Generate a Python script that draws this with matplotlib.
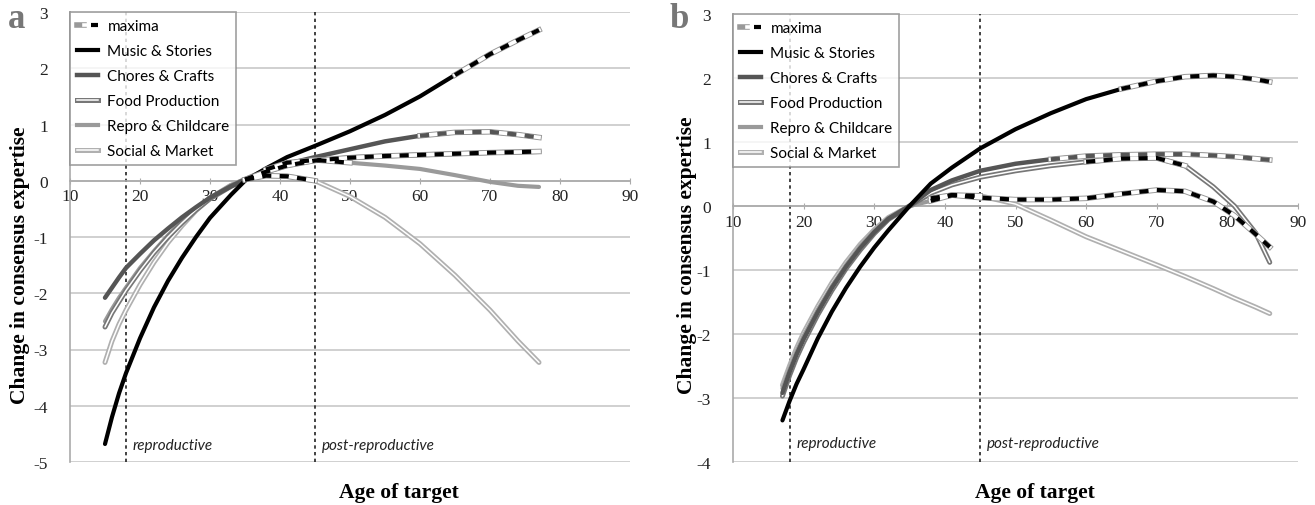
import numpy as np
import matplotlib
matplotlib.use("Agg")
import matplotlib.pyplot as plt
import matplotlib.patheffects as pe
from matplotlib.lines import Line2D
from matplotlib.legend_handler import HandlerTuple

plt.rcParams["axes.unicode_minus"] = False

# ---- data, panel a ----
age_a = np.array([15, 16, 17, 18, 20, 22, 24, 26, 28, 30, 33, 35, 38, 41, 45, 50, 55, 60, 65, 70, 74, 77])
music_a = [-4.68, -4.2, -3.78, -3.42, -2.8, -2.25, -1.78, -1.37, -1.0, -0.66, -0.25, 0.0, 0.22, 0.42, 0.62, 0.88, 1.17, 1.5, 1.88, 2.25, 2.5, 2.68]
chores_a = [-2.08, -1.9, -1.72, -1.55, -1.3, -1.06, -0.85, -0.65, -0.47, -0.3, -0.1, 0.02, 0.17, 0.3, 0.42, 0.56, 0.7, 0.8, 0.86, 0.87, 0.82, 0.77]
food_a = [-2.6, -2.35, -2.15, -1.95, -1.6, -1.28, -1.0, -0.75, -0.52, -0.32, -0.1, 0.02, 0.16, 0.27, 0.36, 0.41, 0.44, 0.46, 0.48, 0.5, 0.51, 0.52]
repro_a = [-2.5, -2.28, -2.08, -1.9, -1.55, -1.25, -0.97, -0.72, -0.5, -0.3, -0.08, 0.03, 0.2, 0.32, 0.37, 0.32, 0.27, 0.21, 0.1, -0.02, -0.09, -0.11]
social_a = [-3.23, -2.85, -2.55, -2.3, -1.85, -1.45, -1.1, -0.8, -0.53, -0.31, -0.08, 0.02, 0.09, 0.08, 0.0, -0.28, -0.65, -1.12, -1.68, -2.3, -2.85, -3.23]
# age range drawn as "maxima" for each series (music, chores, food, repro, social)
max_a = [(65, 77), (60, 77), (35, 77), (38, 50), (35, 45)]

# ---- data, panel b ----
age_b = np.array([17, 18, 19, 20, 22, 24, 26, 28, 30, 32, 35, 38, 41, 45, 50, 55, 60, 65, 70, 74, 78, 81, 84, 86])
music_b = [-3.35, -3.05, -2.78, -2.55, -2.07, -1.65, -1.28, -0.95, -0.65, -0.38, 0.0, 0.35, 0.6, 0.9, 1.2, 1.45, 1.67, 1.83, 1.95, 2.02, 2.04, 2.02, 1.98, 1.94]
chores_b = [-2.92, -2.6, -2.32, -2.08, -1.66, -1.28, -0.95, -0.66, -0.41, -0.2, 0.0, 0.25, 0.4, 0.55, 0.66, 0.73, 0.78, 0.8, 0.81, 0.81, 0.79, 0.77, 0.74, 0.72]
food_b = [-2.97, -2.65, -2.37, -2.13, -1.7, -1.32, -0.98, -0.69, -0.43, -0.21, 0.0, 0.2, 0.33, 0.45, 0.55, 0.63, 0.69, 0.74, 0.75, 0.63, 0.3, 0.0, -0.42, -0.88]
repro_b = [-2.85, -2.55, -2.27, -2.03, -1.62, -1.25, -0.92, -0.63, -0.39, -0.19, 0.0, 0.08, 0.17, 0.13, 0.1, 0.1, 0.12, 0.19, 0.25, 0.23, 0.07, -0.15, -0.44, -0.64]
social_b = [-2.8, -2.5, -2.22, -1.98, -1.57, -1.2, -0.88, -0.6, -0.37, -0.18, 0.0, 0.12, 0.17, 0.16, 0.03, -0.22, -0.48, -0.7, -0.92, -1.1, -1.29, -1.44, -1.58, -1.68]
max_b = [(65, 86), (55, 86), (60, 74), (38, 86), (38, 45)]

labels = ["Music & Stories", "Chores & Crafts", "Food Production", "Repro & Childcare", "Social & Market"]

SERIF = "Liberation Serif"
SANS = "Lato"


def base_style(i):
    # music, chores, food, repro, social
    if i == 0:
        return dict(color="black", lw=3.0)
    if i == 1:
        return dict(color="#555555", lw=3.2)
    if i == 2:
        return dict(color="white", lw=1.1,
                    path_effects=[pe.Stroke(linewidth=3.6, foreground="#777777"), pe.Normal()])
    if i == 3:
        return dict(color="#9a9a9a", lw=3.0)
    return dict(color="white", lw=1.1,
                path_effects=[pe.Stroke(linewidth=3.6, foreground="#b0b0b0"), pe.Normal()])


def draw_panel(ax, ages, series, maxima, ylim, letter, letter_x):
    for i in range(len(series) - 1, -1, -1):
        ax.plot(ages, series[i], solid_capstyle="round", solid_joinstyle="round",
                zorder=3 + (5 - i) * 0.1, **base_style(i))
    for i, (lo, hi) in enumerate(maxima):
        m = (ages >= lo) & (ages <= hi)
        y = np.array(series[i])[m]
        dash_col = "#555555" if i == 1 else "black"
        ax.plot(ages[m], y, color="#999999", lw=4.0, zorder=5)
        ax.plot(ages[m], y, color="white", lw=2.6, zorder=5.1)
        ax.plot(ages[m], y, color=dash_col, lw=3.0, ls=(0, (2.2, 2.0)), zorder=5.2)

    ax.set_xlim(10, 90)
    ax.set_ylim(*ylim)
    ax.set_xticks(range(10, 91, 10))
    ax.set_yticks(range(ylim[0], ylim[1] + 1))
    ax.grid(axis="y", color="#c8c8c8", lw=1.2, zorder=0)
    ax.set_axisbelow(True)
    for s in ["top", "right"]:
        ax.spines[s].set_visible(False)
    ax.spines["bottom"].set_position(("data", 0))
    ax.spines["bottom"].set_color("#aaaaaa")
    ax.spines["left"].set_color("#aaaaaa")
    ax.spines["bottom"].set_linewidth(1.2)
    ax.spines["left"].set_linewidth(1.2)
    ax.tick_params(axis="x", direction="inout", length=5, color="#aaaaaa", pad=3)
    ax.tick_params(axis="y", length=0, pad=16)
    ax.tick_params(labelfontfamily=SERIF, labelsize=12.5, labelcolor="#222222")

    for xv in (18, 45):
        ax.axvline(xv, color="#222222", lw=1.2, ls=(0, (2, 2)), zorder=2)
    ty = ylim[0] + 0.3
    ax.text(19, ty, "reproductive", style="italic", fontsize=11, family=SANS, color="#222222", va="center")
    ax.text(46, ty, "post-reproductive", style="italic", fontsize=11, family=SANS, color="#222222", va="center")

    ax.set_ylabel("Change in consensus expertise", fontsize=15.5, fontweight="bold", family=SERIF)
    ax.set_xlabel("Age of target", fontsize=15.5, fontweight="bold", family=SERIF)

    # legend
    h_max = (Line2D([], [], color="#999999", lw=4.0),
             Line2D([], [], color="white", lw=2.6),
             Line2D([], [], color="black", lw=3.0, ls=(0, (2.5, 10))))
    handles = [h_max]
    for i in range(5):
        handles.append(Line2D([], [], **base_style(i)))
    leg = ax.legend(handles, ["maxima"] + labels, loc="upper left", bbox_to_anchor=(0.0, 1.0),
                    borderaxespad=0.0, frameon=True, fancybox=False, edgecolor="#888888",
                    prop={"family": SANS, "size": 11}, handlelength=1.4, handletextpad=0.6,
                    labelspacing=0.72, borderpad=0.45,
                    handler_map={tuple: HandlerTuple(ndivide=None, pad=0)})
    leg.get_frame().set_linewidth(1.2)
    leg.set_zorder(10)

    ax.figure.text(letter_x, 0.962, letter, fontsize=25, fontweight="bold", family=SERIF,
                   color="#777777", va="center")


fig = plt.figure(figsize=(13.15, 5.06), dpi=100)
ax_a = fig.add_axes([70 / 1315, 43 / 506, 560 / 1315, 450 / 506])
ax_b = fig.add_axes([733 / 1315, 43 / 506, 565 / 1315, 448 / 506])

draw_panel(ax_a, age_a, [music_a, chores_a, food_a, repro_a, social_a], max_a, (-5, 3), "a", 8 / 1315)
draw_panel(ax_b, age_b, [music_b, chores_b, food_b, repro_b, social_b], max_b, (-4, 3), "b", 670 / 1315)

ax_a.xaxis.set_label_coords(0.587, -0.045)
ax_a.yaxis.set_label_coords(-0.071, 0.44)
ax_b.xaxis.set_label_coords(0.535, -0.045)
ax_b.yaxis.set_label_coords(-0.064, 0.464)

fig.savefig("out.png", dpi=100)
